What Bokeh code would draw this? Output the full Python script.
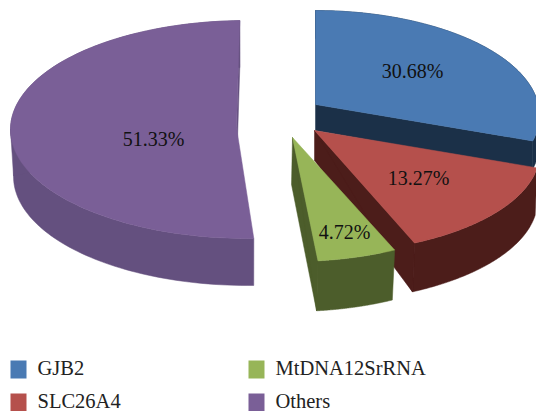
import math
from bokeh.core.properties import value
from bokeh.embed import file_html
from bokeh.models import ColumnDataSource, Range1d
from bokeh.plotting import figure
from bokeh.resources import INLINE

categories = ["GJB2", "SLC26A4", "MtDNA12SrRNA", "Others"]
shares = [30.68, 13.27, 4.72, 51.33]

top_colors = ["#4a7ab3", "#b5504c", "#97b558", "#7a5f97"]
side_colors = ["#1b3048", "#4c1d1a", "#4c5d2b", "#64507f"]

# projected geometry of each exploded slice, in page pixels
apex = [(315, 104), (314, 130), (292, 137), (236, 127)]
foot = [(315, 130), (314, 160), (291, 184), (236, 170)]
top_ellipse = [(314, 115, 225, 105), (314, 153, 225, 100), (292, 156, 225, 105), (247, 129, 237, 109)]
bottom_ellipse = [(314, 143, 225, 105), (312, 200, 225, 102), (291, 206, 222, 105), (247, 176, 234, 109)]
shear = [0.0, 0.0, 0.02, -0.03]
TILT = 0.45

label_pos = [(412, 70), (418, 177), (344, 231), (153, 138)]
legend_pos = [(10, 360), (10, 393), (248, 360), (248, 393)]
legend_text_y = [367.5, 400, 367.5, 400]
FONT = "Liberation Serif"


def on_ellipse(a, t, e, s):
    dx = math.sin(t)
    dy = -TILT * math.cos(t)
    dx += s * dy
    cx, cy, rx, ry = e
    ox, oy = (a[0] - cx) / rx, (a[1] - cy) / ry
    ux, uy = dx / rx, dy / ry
    qa = ux * ux + uy * uy
    qb = 2 * (ox * ux + oy * uy)
    qc = ox * ox + oy * oy - 1
    h = (-qb + math.sqrt(qb * qb - 4 * qa * qc)) / (2 * qa)
    return ox + h * ux, oy + h * uy


p = figure(width=536, height=411, output_backend="svg", toolbar_location=None,
           x_range=Range1d(0, 536), y_range=Range1d(411, 0), min_border=0,
           outline_line_color=None, background_fill_color="white", border_fill_color="white")
p.axis.visible = False
p.grid.visible = False

total = sum(shares)
start = 0.0
order = [3, 0, 1, 2]
starts = []
for v in shares:
    starts.append(start)
    start += v

for i in order:
    t0 = starts[i] / total * 2 * math.pi
    t1 = (starts[i] + shares[i]) / total * 2 * math.pi
    n = 120
    unit = [on_ellipse(apex[i], t0 + (t1 - t0) * k / n, top_ellipse[i], shear[i]) for k in range(n + 1)]
    cx, cy, rx, ry = top_ellipse[i]
    bx, by, brx, bry = bottom_ellipse[i]
    tx = [cx + rx * u for u, _ in unit]
    ty = [cy + ry * w for _, w in unit]
    ux = [bx + brx * u for u, _ in unit]
    uy = [by + bry * w for _, w in unit]
    # radial wall at the closing edge, outer wall, silhouette at the far left, then the top face
    p.patch([apex[i][0], tx[-1], ux[-1], foot[i][0]], [apex[i][1], ty[-1], uy[-1], foot[i][1]],
            fill_color=side_colors[i], line_color=side_colors[i], line_width=0.5)
    p.patch(tx + ux[::-1], ty + uy[::-1], fill_color=side_colors[i], line_color=side_colors[i], line_width=0.5)
    far = min(range(n + 1), key=lambda k: tx[k])
    p.patch([tx[far], ux[far], apex[i][0]], [ty[far], uy[far], apex[i][1]],
            fill_color=side_colors[i], line_color=side_colors[i], line_width=0.5)
    p.patch([apex[i][0]] + tx, [apex[i][1]] + ty, fill_color=top_colors[i], line_color=top_colors[i], line_width=0.5)

p.text(x=[q[0] for q in label_pos], y=[q[1] for q in label_pos],
       text=[f"{v:.2f}%" for v in shares], text_font=value(FONT), text_font_size="20px",
       text_color="#111111", text_align="center", text_baseline="middle")

src = ColumnDataSource(dict(
    left=[q[0] for q in legend_pos], right=[q[0] + 16 for q in legend_pos],
    top=[q[1] for q in legend_pos], bottom=[q[1] + 18 for q in legend_pos],
    color=top_colors, tx=[q[0] + 27 for q in legend_pos], ty=legend_text_y,
    name=categories))
p.quad(left="left", right="right", top="top", bottom="bottom", fill_color="color", line_color=None, source=src)
p.text(x="tx", y="ty", text="name", source=src, text_font=value(FONT), text_font_size="20.5px",
       text_color="#222222", text_align="left", text_baseline="middle")

open("out.html", "w").write(file_html(p, INLINE))
